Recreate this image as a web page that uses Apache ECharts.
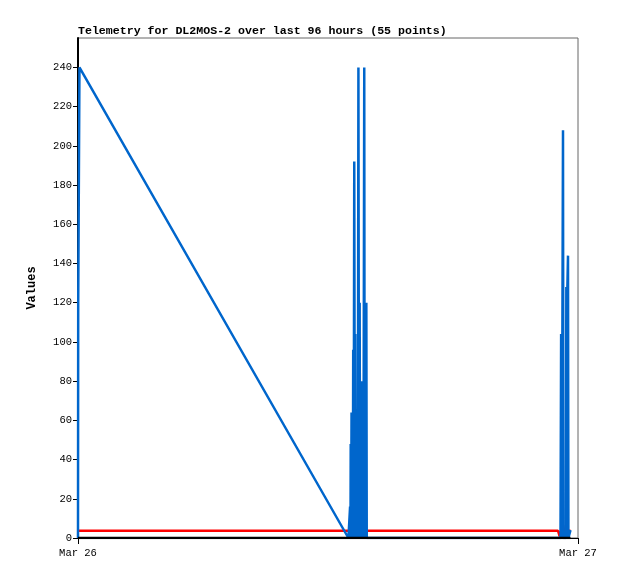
<!DOCTYPE html>
<html>
<head>
<meta charset="utf-8">
<script src="https://cdn.jsdelivr.net/npm/echarts@6/dist/echarts.min.js"></script>
<style>
  html, body { margin: 0; padding: 0; background: #fff; }
  #main { width: 618px; height: 579px; }
</style>
</head>
<body>
<div id="main"></div>
<script>
// hours since Mar 26 00:00
var xTicks = ['Mar 26', 'Mar 27']
var yTicks = [0, 20, 40, 60, 80, 100, 120, 140, 160, 180, 200, 220, 240]

var blueTimes = [0, 0.01, 0.07, 12.98, 13.06, 13.08, 13.09, 13.11, 13.13, 13.15, 13.17, 13.19,
  13.21, 13.23, 13.26, 13.29, 13.31, 13.33, 13.36, 13.38, 13.41, 13.43, 13.46, 13.49,
  13.52, 13.54, 13.57, 13.59, 13.62, 13.65, 13.68, 13.70, 13.74, 13.76, 13.79, 13.81,
  13.84, 13.86, 23.16, 23.19, 23.22, 23.25, 23.28, 23.30, 23.42, 23.44, 23.47, 23.49,
  23.52, 23.54, 23.64]
var blueValues = [0, 120, 240, 0, 16, 0, 48, 0, 64, 0, 64, 0,
  96, 0, 192, 0, 104, 0, 56, 0, 56, 0, 240, 0,
  120, 0, 80, 0, 80, 0, 80, 0, 240, 0, 120, 0,
  120, 0, 0, 104, 0, 104, 208, 0, 0, 128, 0, 128,
  144, 0, 4]

var redTimes = [0.05, 23.04, 23.12, 23.18, 23.38, 23.42, 23.46, 23.64]
var redValues = [3.7, 3.7, 0.8, 3.6, 3.7, 6.5, 3.7, 3.7]

var blackTimes = [0, 23.64]
var blackValues = [0, 0]

function pairs (t, v) {
  var out = []
  for (var i = 0; i < t.length; i++) out.push([t[i], v[i]])
  return out
}

var mono = 'Liberation Mono'
var myChart = echarts.init(document.getElementById('main'))
myChart.setOption({
  animation: false,
  backgroundColor: '#fff',
  title: {
    text: 'Telemetry for DL2MOS-2 over last 96 hours (55 points)',
    left: 73,
    top: 20,
    textStyle: { fontFamily: mono, fontSize: 11.6, fontWeight: 'bold', color: '#000' }
  },
  grid: {
    left: 78, right: 40, top: 38, bottom: 41,
    show: true, borderColor: '#666', borderWidth: 1, backgroundColor: '#fff'
  },
  xAxis: {
    type: 'value',
    min: 0,
    max: 24,
    interval: 24,
    axisLine: { lineStyle: { color: '#000', width: 1 } },
    axisTick: { length: 6, lineStyle: { color: '#000' } },
    splitLine: { show: false },
    axisLabel: {
      fontFamily: mono, fontSize: 10.5, color: '#000', margin: 10,
      formatter: function (v) { return v === 0 ? xTicks[0] : (v === 24 ? xTicks[1] : '') }
    }
  },
  yAxis: {
    type: 'value',
    min: 0,
    max: 255,
    interval: 20,
    name: 'Values',
    nameLocation: 'middle',
    nameGap: 40,
    nameRotate: 90,
    nameTextStyle: { fontFamily: mono, fontSize: 12, fontWeight: 'bold', color: '#000' },
    axisLine: { show: true, lineStyle: { color: '#000', width: 2 } },
    axisTick: { length: 5, lineStyle: { color: '#000' } },
    splitLine: { show: false },
    axisLabel: {
      fontFamily: mono, fontSize: 10.5, color: '#000', margin: 6, showMaxLabel: false,
      formatter: function (v) { return yTicks.indexOf(v) >= 0 ? String(v) : '' }
    }
  },
  series: [
    {
      type: 'line', data: pairs(redTimes, redValues), showSymbol: false, z: 2,
      lineStyle: { color: '#ff0000', width: 2.5 }
    },
    {
      type: 'line', data: pairs(blueTimes, blueValues), showSymbol: false, z: 3,
      lineStyle: { color: '#0066cc', width: 2.5 }
    },
    {
      type: 'line', data: pairs(blackTimes, blackValues), showSymbol: false, z: 4,
      lineStyle: { color: '#000', width: 2.5 }
    }
  ]
})
window.onresize = myChart.resize
</script>
</body>
</html>
